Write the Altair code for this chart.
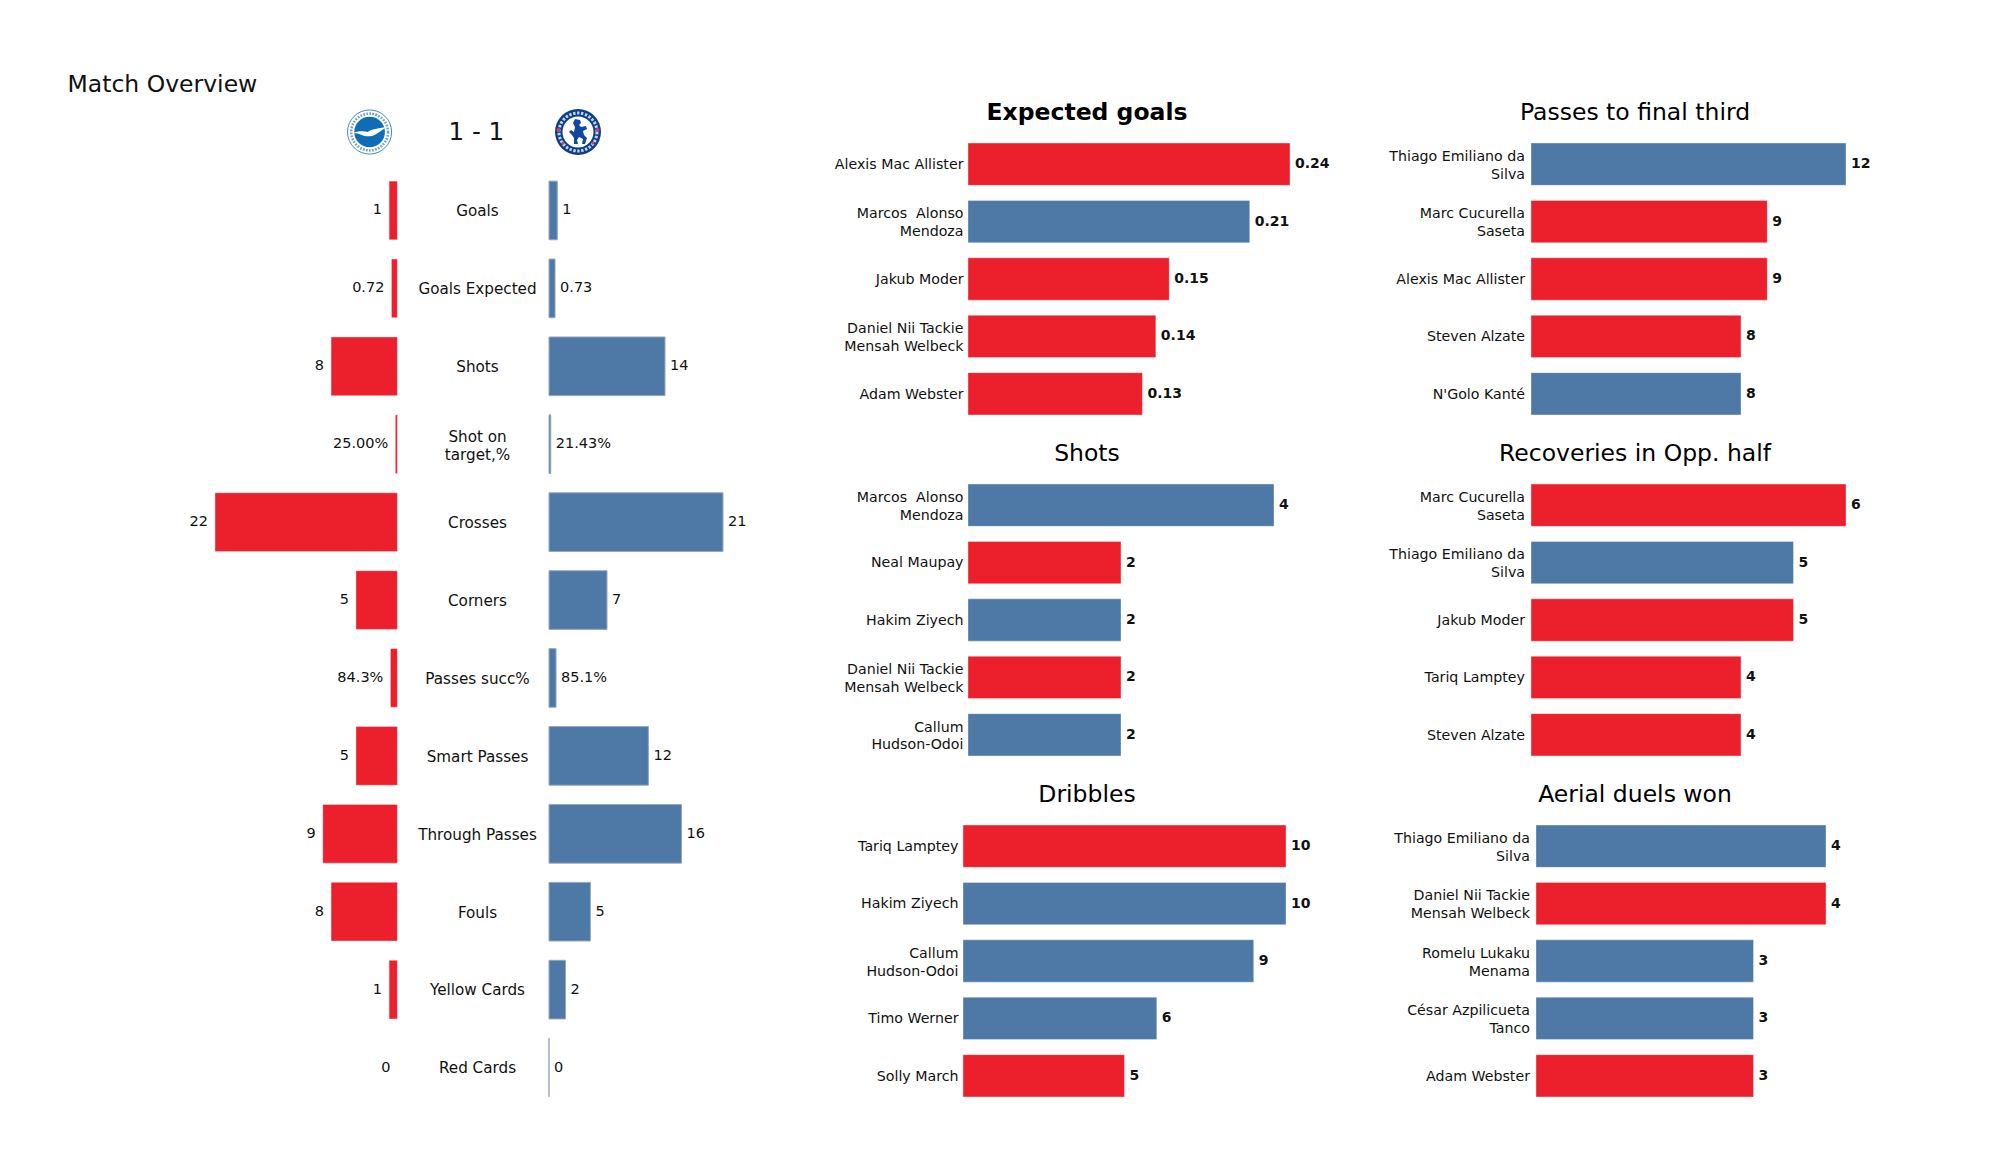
import urllib.parse
import pandas as pd
import altair as alt

RED = "#EC1F2D"
BLUE = "#4E79A7"
FONT = "DejaVu Sans"
INK = "#111111"

overview_stats = ["Goals", "Goals Expected", "Shots", "Shot on\ntarget,%", "Crosses", "Corners",
                  "Passes succ%", "Smart Passes", "Through Passes", "Fouls", "Yellow Cards", "Red Cards"]
home_values = [1, 0.72, 8, 0.25, 22, 5, 0.843, 5, 9, 8, 1, 0]
away_values = [1, 0.73, 14, 0.2143, 21, 7, 0.851, 12, 16, 5, 2, 0]
home_labels = ["1", "0.72", "8", "25.00%", "22", "5", "84.3%", "5", "9", "8", "1", "0"]
away_labels = ["1", "0.73", "14", "21.43%", "21", "7", "85.1%", "12", "16", "5", "2", "0"]

xg_names = ["Alexis Mac Allister", "Marcos \u00a0Alonso\nMendoza", "Jakub Moder", "Daniel Nii Tackie\nMensah Welbeck", "Adam Webster"]
xg_values = [0.24, 0.21, 0.15, 0.14, 0.13]
xg_labels = ["0.24", "0.21", "0.15", "0.14", "0.13"]
xg_teams = ["h", "a", "h", "h", "h"]

shots_names = ["Marcos \u00a0Alonso\nMendoza", "Neal Maupay", "Hakim Ziyech", "Daniel Nii Tackie\nMensah Welbeck", "Callum\nHudson-Odoi"]
shots_values = [4, 2, 2, 2, 2]
shots_teams = ["a", "h", "a", "h", "a"]

drib_names = ["Tariq Lamptey", "Hakim Ziyech", "Callum\nHudson-Odoi", "Timo Werner", "Solly March"]
drib_values = [10, 10, 9, 6, 5]
drib_teams = ["h", "a", "a", "a", "h"]

final_names = ["Thiago Emiliano da\nSilva", "Marc Cucurella\nSaseta", "Alexis Mac Allister", "Steven Alzate", "N'Golo Kanté"]
final_values = [12, 9, 9, 8, 8]
final_teams = ["a", "h", "h", "h", "a"]

recov_names = ["Marc Cucurella\nSaseta", "Thiago Emiliano da\nSilva", "Jakub Moder", "Tariq Lamptey", "Steven Alzate"]
recov_values = [6, 5, 5, 4, 4]
recov_teams = ["h", "a", "h", "h", "h"]

aerial_names = ["Thiago Emiliano da\nSilva", "Daniel Nii Tackie\nMensah Welbeck", "Romelu Lukaku\nMenama", "César Azpilicueta\nTanco", "Adam Webster"]
aerial_values = [4, 4, 3, 3, 3]
aerial_teams = ["a", "h", "a", "a", "h"]

BRIGHTON = ('<svg xmlns="http://www.w3.org/2000/svg" viewBox="0 0 48 48">'
            '<circle cx="24" cy="24" r="23" fill="#fff" stroke="#2a78b8" stroke-width="0.9"/>'
            '<circle cx="24" cy="24" r="19.2" fill="none" stroke="#6fa0c9" stroke-width="2.6" stroke-dasharray="1.8 1.4"/>'
            '<circle cx="24" cy="24" r="16" fill="#0f6cb6"/>'
            '<path d="M7 25 C13 23 18 23 22 24 C26 21 33 20 41 19 C36 23 33 25 29 27 C25 29 20 29 16 27 C13 26 10 25 7 25 Z" fill="#fff"/>'
            '</svg>')
CHELSEA = ('<svg xmlns="http://www.w3.org/2000/svg" viewBox="0 0 48 48">'
           '<circle cx="24" cy="24" r="23" fill="#0b3f8c"/>'
           '<circle cx="24" cy="24" r="19" fill="none" stroke="#c7d3e6" stroke-width="3" stroke-dasharray="2.4 1.6"/>'
           '<circle cx="24" cy="24" r="15.5" fill="#fff"/>'
           '<circle cx="4.5" cy="22" r="2" fill="#d8455a"/><circle cx="43.5" cy="22" r="2" fill="#d8455a"/>'
           '<circle cx="9" cy="35" r="1.5" fill="#d8455a"/><circle cx="39" cy="35" r="1.5" fill="#d8455a"/>'
           '<path d="M21 11 L26 12 L27 15 L25 17 L27 19 L32 18 L33 21 L29 23 L30 27 L33 30 L31 36 L28 36 L29 31 L25 29 L23 32 L24 36 L20 36 L20 30 L18 27 L15 24 L17 22 L20 24 L21 19 L19 15 Z" fill="#12489b"/>'
           '</svg>')


def svg_uri(svg):
    return "data:image/svg+xml," + urllib.parse.quote(svg)


def guard(x, y):
    # one white pixel fixes the extent of a column, so the columns line up exactly
    return alt.Chart(pd.DataFrame({"g": [0]})).mark_rule(color="#ffffff").encode(
        x=alt.value(x), x2=alt.value(x + 1), y=alt.value(y))


def name_axis(padding, size=14.2, align="right"):
    return alt.Axis(title=None, domain=False, ticks=False, labelFont=FONT, labelFontSize=size,
                    labelColor=INK, labelPadding=padding, labelAlign=align, labelLineHeight=17.8,
                    labelExpr="split(datum.label, '\\n')", labelLimit=300,
                    labelOffset={"condition": {"test": "indexof(datum.label, '\\n') >= 0", "value": -7.2}, "value": 0.8})


def ranking(title, names, values, labels, teams, domain_max, rng, width, padding, title_dx, guards=(), offset=11):
    df = pd.DataFrame({"name": names, "value": values, "label": labels, "team": teams})
    x = alt.X("value:Q", axis=None, scale=alt.Scale(domain=[0, domain_max], range=rng, nice=False, zero=True))
    y = alt.Y("name:N", sort=names, axis=name_axis(padding),
              scale=alt.Scale(paddingInner=0.263, paddingOuter=0.1315))
    color = alt.Color("team:N", legend=None, scale=alt.Scale(domain=["h", "a"], range=[RED, BLUE]))
    bars = alt.Chart(df).mark_bar(strokeWidth=0.8, strokeOpacity=0.45, stroke="#ffffff").encode(x=x, y=y, color=color)
    text = alt.Chart(df).mark_text(align="left", baseline="middle", dx=5, font=FONT, fontSize=14,
                                   fontWeight="bold", color=INK).encode(x=x, y=y, text="label:N")
    ttl = alt.TitleParams(title, font=FONT, fontSize=23.5, color="#000000", anchor="middle",
                          fontWeight="bold" if title == "Expected goals" else "normal",
                          dx=title_dx, offset=offset)
    layers = [bars, text] + [guard(*g) for g in guards]
    return alt.layer(*layers).properties(width=width, height=287, title=ttl)


def strs(vals):
    return [str(v) for v in vals]


COL1 = 327
COL2 = 315
TOP_GUARD = -70
a = ranking("Expected goals", xg_names, xg_values, xg_labels, xg_teams, 0.24, [5, 327], COL1, 0, -39.5,
            guards=[(-210, TOP_GUARD), (COL1 + 35, TOP_GUARD)], offset=-59)
c = ranking("Shots", shots_names, shots_values, strs(shots_values), shots_teams, 4, [5, 311], COL1, 0, -39.5)
e = ranking("Dribbles", drib_names, drib_values, strs(drib_values), drib_teams, 10, [0, 323], COL1, 5, -39.5)
b = ranking("Passes to final third", final_names, final_values, strs(final_values), final_teams, 12, [0, 315], COL2, 6.5, -53.5,
            guards=[(-199, TOP_GUARD), (COL2 + 39, TOP_GUARD)], offset=-59)
d = ranking("Recoveries in Opp. half", recov_names, recov_values, strs(recov_values), recov_teams, 6, [0, 315], COL2, 6.5, -53.5)
f = ranking("Aerial duels won", aerial_names, aerial_values, strs(aerial_values), aerial_teams, 4, [5, 295], COL2, 1.5, -53.5)

ov_y_scale = alt.Scale(paddingInner=0.247, paddingOuter=0.1235)
home_df = pd.DataFrame({"stat": overview_stats, "value": home_values, "label": home_labels})
away_df = pd.DataFrame({"stat": overview_stats, "value": away_values, "label": away_labels})

hx = alt.X("value:Q", axis=None, scale=alt.Scale(domain=[0, 22], reverse=True, nice=False))
hy = alt.Y("stat:N", sort=overview_stats, axis=None, scale=ov_y_scale)
home_bars = (alt.Chart(home_df).transform_filter("datum.value > 0")
             .mark_bar(color=RED, stroke="#ffffff", strokeWidth=0.8, strokeOpacity=0.45).encode(x=hx, y=hy))
home_text = alt.Chart(home_df).mark_text(align="right", baseline="middle", dx=-7, font=FONT, fontSize=14.5,
                                         color=INK).encode(x=hx, y=hy, text="label:N")
home_view = (home_bars + home_text).properties(width=182.4, height=935)

ax = alt.X("value:Q", axis=None, scale=alt.Scale(domain=[0, 21], nice=False))
ay = alt.Y("stat:N", sort=overview_stats, scale=ov_y_scale, axis=name_axis(72, size=15.2, align="center"))
away_bars = alt.Chart(away_df).mark_bar(color=BLUE, stroke="#9aa8bc", strokeWidth=1).encode(x=ax, y=ay)
away_text = alt.Chart(away_df).mark_text(align="left", baseline="middle", dx=5, font=FONT, fontSize=14.5,
                                         color=INK).encode(x=ax, y=ay, text="label:N")
away_view = (away_bars + away_text + guard(174 + 26, 0)).properties(width=174, height=935)

one = pd.DataFrame({"page_title": ["Match Overview"], "score": ["1 - 1"]})
page_title = alt.Chart(one).mark_text(align="left", baseline="middle", font=FONT, fontSize=23.5, color=INK).encode(
    x=alt.value(-147.5), y=alt.value(-50.5), text="page_title:N")
score = alt.Chart(one).mark_text(align="center", baseline="middle", font=FONT, fontSize=24.5, color=INK).encode(
    x=alt.value(261.4), y=alt.value(-2.5), text="score:N")
home_logo = alt.Chart(one).mark_image(width=46, height=46).encode(
    x=alt.value(154.6), y=alt.value(-3.5), url=alt.value(svg_uri(BRIGHTON)))
away_logo = alt.Chart(one).mark_image(width=48, height=48).encode(
    x=alt.value(363), y=alt.value(-3.5), url=alt.value(svg_uri(CHELSEA)))
header = alt.layer(page_title, score, home_logo, away_logo, guard(-150, TOP_GUARD)).properties(width=507, height=36)

pyramid = alt.hconcat(home_view, away_view, spacing=151, bounds="flush")
left = alt.vconcat(header, pyramid, spacing=0, bounds="flush")
col1 = alt.vconcat(a, c, e, spacing=54, bounds="flush")
col2 = alt.vconcat(b, d, f, spacing=54, bounds="flush")

chart = (alt.hconcat(left, col1, col2, spacing=1)
         .properties(padding={"left": 56, "top": 56.5, "right": 20, "bottom": 20}, background="#ffffff")
         .configure_view(stroke=None))

chart.save("out.html", embed_options={"renderer": "svg", "actions": False})
